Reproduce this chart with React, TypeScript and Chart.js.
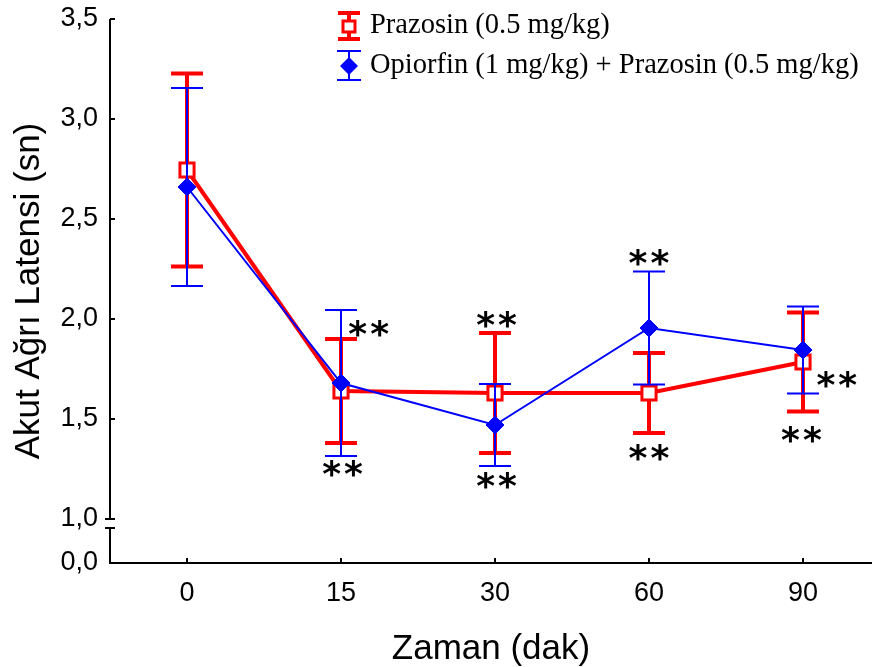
import React, { useEffect, useRef } from 'react';
import { Chart, registerables } from 'chart.js';

Chart.register(...registerables);

const timeLabels = ['0', '15', '30', '60', '90'];
const prazosinMean = [2.745, 1.64, 1.63, 1.63, 1.785];
const prazosinSem = [0.483, 0.26, 0.3, 0.2, 0.248];
const comboMean = [2.66, 1.68, 1.47, 1.955, 1.845];
const comboSem = [0.495, 0.365, 0.205, 0.283, 0.218];
const seriesNames = ['Prazosin (0.5 mg/kg)', 'Opiorfin (1 mg/kg) + Prazosin (0.5 mg/kg)'];
const yTickValues = [1.0, 1.5, 2.0, 2.5, 3.0, 3.5];
const yZeroLabelPos = 0.78;
const yZeroLabel = '0,0';
const starX = [1.18, 1.01, 2.01, 2.01, 3.0, 3.0, 4.22, 3.99];
const starY = [1.955, 1.255, 2.0, 1.195, 2.31, 1.335, 1.7, 1.425];
const starText = '**';

const SANS = "'Liberation Sans', Arial, sans-serif";
const SERIF = "'Liberation Serif', 'Times New Roman', serif";
const RED = '#ff0000';
const BLUE = '#0000ff';

const errorBarPlugin = {
  id: 'errorBars',
  beforeDatasetDraw(chart: any, args: any) {
    const ds = chart.data.datasets[args.index];
    const sem: number[] = ds.sem;
    if (!sem) return;
    const ctx = chart.ctx;
    const xs = chart.scales.x;
    const ys = chart.scales.y;
    const capHalf = 16;
    ctx.save();
    ctx.strokeStyle = ds.borderColor;
    ctx.lineWidth = ds.errWidth;
    ctx.lineCap = 'butt';
    ds.data.forEach((p: any, i: number) => {
      const x = xs.getPixelForValue(p.x);
      const yT = ys.getPixelForValue(p.y + sem[i]);
      const yB = ys.getPixelForValue(p.y - sem[i]);
      ctx.beginPath();
      ctx.moveTo(x, yT);
      ctx.lineTo(x, yB);
      ctx.moveTo(x - capHalf, yT);
      ctx.lineTo(x + capHalf, yT);
      ctx.moveTo(x - capHalf, yB);
      ctx.lineTo(x + capHalf, yB);
      ctx.stroke();
    });
    ctx.restore();
  },
};

const axesPlugin = {
  id: 'brokenAxes',
  afterDraw(chart: any) {
    const ctx = chart.ctx;
    const { left, right, top, bottom } = chart.chartArea;
    const xs = chart.scales.x;
    const ys = chart.scales.y;
    const y1 = Math.round(ys.getPixelForValue(1.0));
    const gap = 9;
    ctx.save();
    ctx.strokeStyle = '#000';
    ctx.lineWidth = 2;
    ctx.beginPath();
    ctx.moveTo(left, top);
    ctx.lineTo(left, y1);
    ctx.moveTo(left, y1 + gap);
    ctx.lineTo(left, bottom + 1);
    ctx.moveTo(left - 5, y1);
    ctx.lineTo(left + 5, y1);
    ctx.moveTo(left - 5, y1 + gap);
    ctx.lineTo(left + 5, y1 + gap);
    ctx.moveTo(left - 1, bottom);
    ctx.lineTo(right, bottom);
    yTickValues.forEach((v) => {
      if (v === 1.0) return;
      const py = Math.round(ys.getPixelForValue(v));
      ctx.moveTo(left, py);
      ctx.lineTo(left + 5, py);
    });
    timeLabels.forEach((_, i) => {
      const px = Math.round(xs.getPixelForValue(i));
      ctx.moveTo(px, bottom);
      ctx.lineTo(px, bottom - 5);
    });
    ctx.stroke();
    ctx.restore();
  },
};

const starsPlugin = {
  id: 'stars',
  afterDatasetsDraw(chart: any) {
    const ctx = chart.ctx;
    const xs = chart.scales.x;
    const ys = chart.scales.y;
    ctx.save();
    ctx.fillStyle = '#000';
    ctx.font = `bold 36px 'DejaVu Sans', ${SANS}`;
    (ctx as any).letterSpacing = '3px';
    ctx.textAlign = 'left';
    ctx.textBaseline = 'alphabetic';
    starX.forEach((sx, i) => {
      const cx = xs.getPixelForValue(sx);
      const cy = ys.getPixelForValue(starY[i]);
      const m = ctx.measureText(starText);
      const x = cx - (m.actualBoundingBoxRight - m.actualBoundingBoxLeft) / 2;
      const y = cy + (m.actualBoundingBoxAscent - m.actualBoundingBoxDescent) / 2;
      ctx.fillText(starText, x, y);
    });
    ctx.restore();
  },
};

const legendPlugin = {
  id: 'customLegend',
  afterDraw(chart: any) {
    const ctx = chart.ctx;
    ctx.save();
    const sx = 349;
    const tx = 370;
    const rows = [26, 66];
    ctx.strokeStyle = RED;
    ctx.lineWidth = 4;
    ctx.beginPath();
    ctx.moveTo(sx, rows[0] - 13);
    ctx.lineTo(sx, rows[0] + 13);
    ctx.moveTo(sx - 11, rows[0] - 13);
    ctx.lineTo(sx + 11, rows[0] - 13);
    ctx.moveTo(sx - 11, rows[0] + 13);
    ctx.lineTo(sx + 11, rows[0] + 13);
    ctx.stroke();
    ctx.fillStyle = '#fff';
    ctx.lineWidth = 3;
    ctx.beginPath();
    ctx.rect(sx - 6, rows[0] - 5, 12, 11);
    ctx.fill();
    ctx.stroke();
    ctx.strokeStyle = BLUE;
    ctx.lineWidth = 2;
    ctx.beginPath();
    ctx.moveTo(sx, rows[1] - 15);
    ctx.lineTo(sx, rows[1] + 14);
    ctx.moveTo(sx - 12, rows[1] - 15);
    ctx.lineTo(sx + 12, rows[1] - 15);
    ctx.moveTo(sx - 12, rows[1] + 14);
    ctx.lineTo(sx + 12, rows[1] + 14);
    ctx.stroke();
    ctx.fillStyle = BLUE;
    ctx.beginPath();
    ctx.moveTo(sx, rows[1] - 9);
    ctx.lineTo(sx + 9, rows[1]);
    ctx.lineTo(sx, rows[1] + 9);
    ctx.lineTo(sx - 9, rows[1]);
    ctx.closePath();
    ctx.fill();
    ctx.fillStyle = '#000';
    ctx.font = `28.5px ${SERIF}`;
    ctx.textAlign = 'left';
    ctx.textBaseline = 'middle';
    ctx.fillText(seriesNames[0], tx, rows[0]);
    ctx.fillText(seriesNames[1], tx, rows[1]);
    ctx.restore();
  },
};

const zeroPadding = (s: any) => {
  s.paddingTop = 0;
  s.paddingBottom = 0;
  s.paddingLeft = 0;
  s.paddingRight = 0;
};

export default function App() {
  const ref = useRef<HTMLCanvasElement | null>(null);
  useEffect(() => {
    if (!ref.current) return;
    const chart = new Chart(ref.current, {
      type: 'line',
      data: {
        datasets: [
          {
            label: seriesNames[0],
            data: prazosinMean.map((v, i) => ({ x: i, y: v })),
            borderColor: RED,
            borderWidth: 4,
            pointStyle: 'rect',
            pointRadius: 10,
            pointBorderWidth: 3,
            pointBackgroundColor: '#ffffff',
            pointBorderColor: RED,
            tension: 0,
            order: 1,
            sem: prazosinSem,
            errWidth: 4,
          } as any,
          {
            label: seriesNames[1],
            data: comboMean.map((v, i) => ({ x: i, y: v })),
            borderColor: BLUE,
            borderWidth: 2,
            pointStyle: 'rectRot',
            pointRadius: 9,
            pointBorderWidth: 1,
            pointBackgroundColor: BLUE,
            pointBorderColor: BLUE,
            tension: 0,
            order: 0,
            sem: comboSem,
            errWidth: 2,
          } as any,
        ],
      },
      options: {
        animation: false,
        responsive: false,
        devicePixelRatio: 1,
        layout: { autoPadding: false, padding: { top: 19, left: 0, right: 0, bottom: 0 } },
        plugins: {
          legend: { display: false },
          tooltip: { enabled: false },
        },
        scales: {
          x: {
            type: 'linear',
            min: -0.5,
            max: 4.448,
            afterBuildTicks: (s: any) => {
              s.ticks = timeLabels.map((_, i) => ({ value: i }));
            },
            afterFit: (s: any) => {
              s.height = 104;
              zeroPadding(s);
            },
            ticks: {
              callback: (_v: any, i: number) => timeLabels[i],
              font: { family: SANS, size: 27 },
              color: '#000',
              padding: 14,
              maxRotation: 0,
              autoSkip: false,
            },
            grid: { display: false, drawTicks: false },
            border: { display: false },
            title: {
              display: true,
              text: 'Zaman (dak)',
              color: '#000',
              font: { family: SANS, size: 35, lineHeight: 1 },
              padding: { top: 0, bottom: 0 },
            },
          },
          y: {
            type: 'linear',
            min: yZeroLabelPos,
            max: 3.5,
            afterBuildTicks: (s: any) => {
              s.ticks = [yZeroLabelPos, ...yTickValues].map((v) => ({ value: v }));
            },
            afterFit: (s: any) => {
              s.width = 110;
              zeroPadding(s);
            },
            ticks: {
              callback: (v: any, i: number) =>
                i === 0 ? yZeroLabel : Number(v).toFixed(1).replace('.', ','),
              font: { family: SANS, size: 27 },
              color: '#000',
              padding: 12,
              autoSkip: false,
            },
            grid: { display: false, drawTicks: false },
            border: { display: false },
            title: {
              display: true,
              text: 'Akut Ağrı Latensi (sn)',
              color: '#000',
              font: { family: SANS, size: 35, lineHeight: 1 },
              padding: { top: 12, bottom: 0 },
            },
          },
        },
      } as any,
      plugins: [errorBarPlugin, axesPlugin, starsPlugin, legendPlugin],
    });
    return () => chart.destroy();
  }, []);
  return (
    <div style={{ position: 'absolute', left: 0, top: 0, width: 872, height: 667, background: '#fff' }}>
      <canvas ref={ref} width={872} height={667} style={{ display: 'block' }} />
    </div>
  );
}
